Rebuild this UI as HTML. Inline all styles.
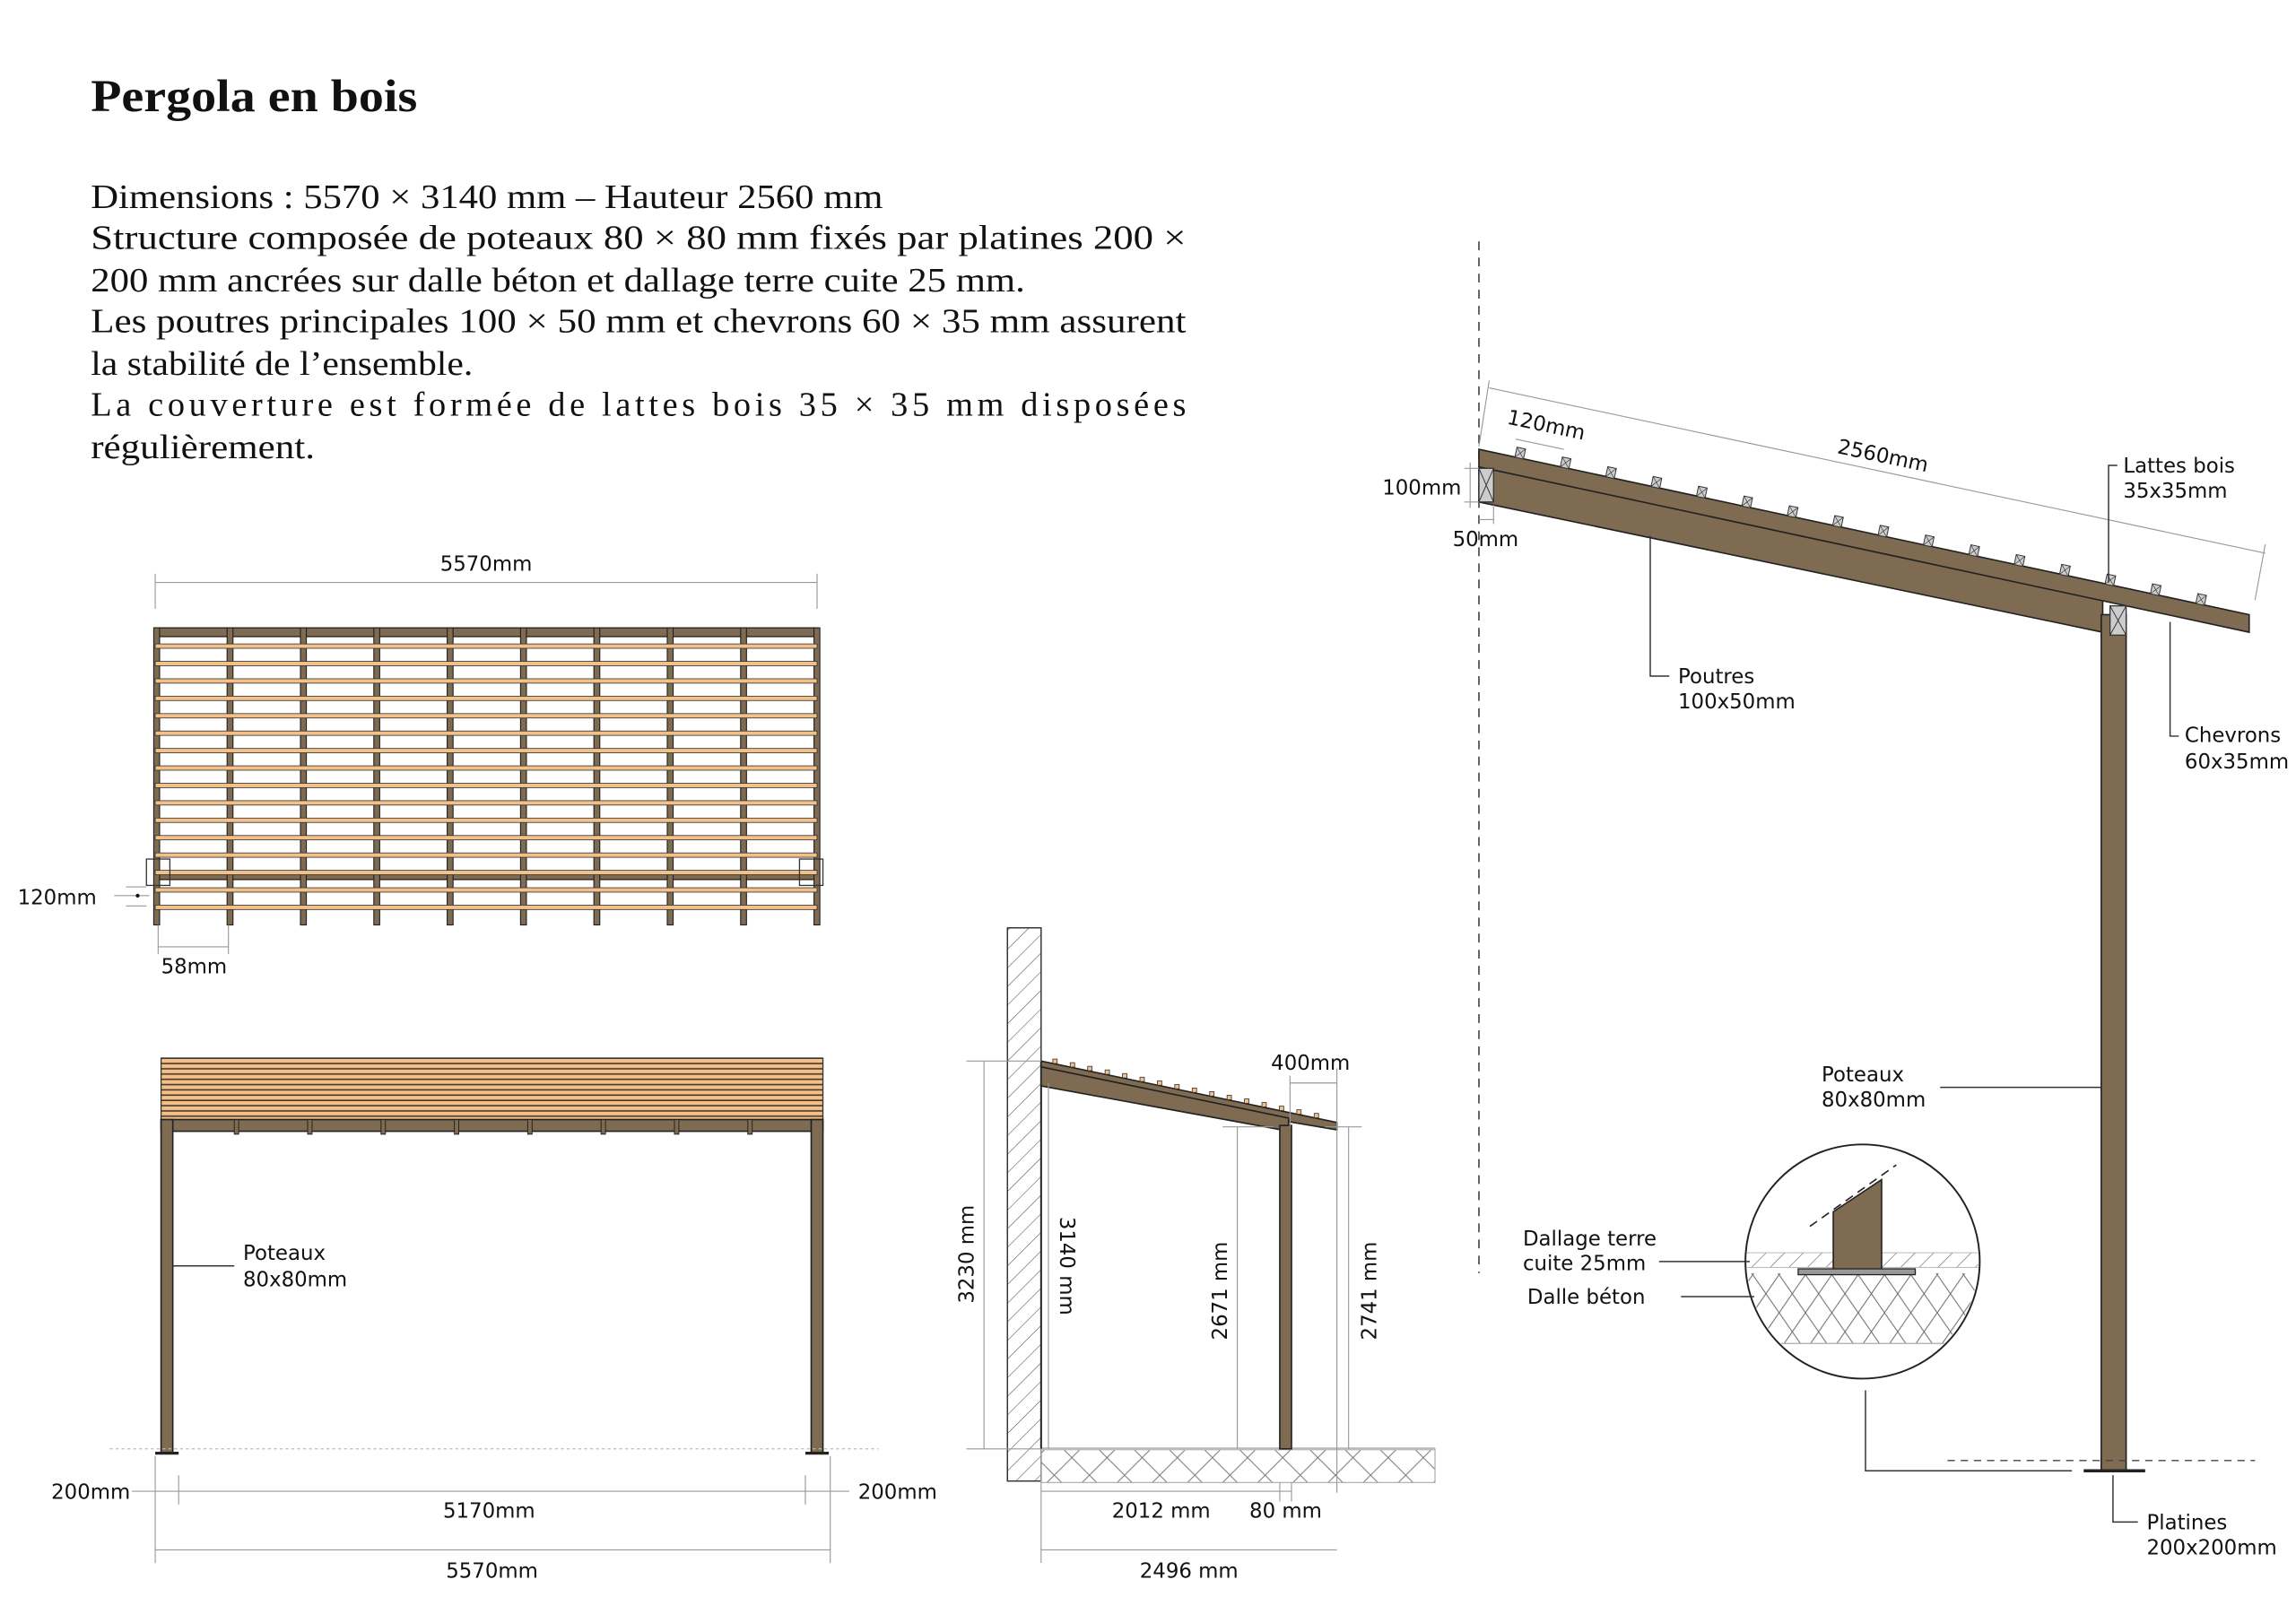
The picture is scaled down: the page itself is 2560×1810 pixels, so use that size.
<!DOCTYPE html>
<html><head><meta charset="utf-8">
<style>
html,body{margin:0;padding:0;background:#fff;}
svg{display:block;}
.s{font-family:"DejaVu Sans","Liberation Sans",sans-serif;font-size:14px;fill:#111;}
.p{font-family:"Liberation Serif","DejaVu Serif",serif;font-size:23.5px;fill:#111;}
.dim{stroke:#999;stroke-width:0.7;fill:none;}
.ld{stroke:#333;stroke-width:0.9;fill:none;}
.br{fill:#7f6b52;stroke:#222;stroke-width:1;}
</style></head>
<body>
<svg id="sv" width="2560" height="1810" viewBox="0 0 1568 1109" preserveAspectRatio="none" xmlns="http://www.w3.org/2000/svg">
<defs>
<pattern id="hatch" width="9" height="9" patternUnits="userSpaceOnUse" patternTransform="rotate(45)">
<line x1="0" y1="0" x2="0" y2="9" stroke="#555" stroke-width="0.7"/></pattern>
<pattern id="cross" width="24" height="24" patternUnits="userSpaceOnUse">
<path d="M0 0L24 24M24 0L0 24" stroke="#777" stroke-width="0.6"/></pattern>
<pattern id="cross2" width="18" height="26" patternUnits="userSpaceOnUse">
<path d="M0 0L18 26M18 0L0 26" stroke="#666" stroke-width="0.6"/></pattern>
<pattern id="stripes" width="10" height="3.6" patternUnits="userSpaceOnUse">
<rect width="10" height="3.6" fill="#f3c089"/><rect y="2.6" width="10" height="1" fill="#4a3a2a"/></pattern>
<clipPath id="circ"><circle cx="1272" cy="862" r="79"/></clipPath>
</defs>

<!-- Title & text -->
<text x="62" y="76" textLength="223" lengthAdjust="spacingAndGlyphs" style="font-family:'Liberation Serif',serif;font-size:31px;font-weight:bold;fill:#111">Pergola en bois</text>
<text class="p" x="62" y="142" textLength="541" lengthAdjust="spacingAndGlyphs">Dimensions : 5570 × 3140 mm – Hauteur 2560 mm</text>
<text class="p" x="62" y="170" textLength="748" lengthAdjust="spacingAndGlyphs">Structure composée de poteaux 80 × 80 mm fixés par platines 200 ×</text>
<text class="p" x="62" y="199" textLength="638" lengthAdjust="spacingAndGlyphs">200 mm ancrées sur dalle béton et dallage terre cuite 25 mm.</text>
<text class="p" x="62" y="227" textLength="748" lengthAdjust="spacingAndGlyphs">Les poutres principales 100 × 50 mm et chevrons 60 × 35 mm assurent</text>
<text class="p" x="62" y="256" textLength="261" lengthAdjust="spacingAndGlyphs">la stabilité de l’ensemble.</text>
<text class="p" x="62" y="284" textLength="748" lengthAdjust="spacing">La couverture est formée de lattes bois 35 × 35 mm disposées</text>
<text class="p" x="62" y="313" textLength="153" lengthAdjust="spacingAndGlyphs">régulièrement.</text>

<!-- ============ PLAN VIEW ============ -->
<text class="s" x="332" y="390" text-anchor="middle">5570mm</text>
<line class="dim" x1="106" y1="398" x2="558" y2="398"/>
<line class="dim" x1="106" y1="392" x2="106" y2="416"/>
<line class="dim" x1="558" y1="392" x2="558" y2="416"/>
<g id="plan"></g>
<text class="s" x="12" y="618">120mm</text>
<line class="dim" x1="78" y1="612" x2="102" y2="612"/>
<line class="dim" x1="86" y1="606" x2="100" y2="606"/><line class="dim" x1="86" y1="619" x2="100" y2="619"/>
<circle cx="94" cy="612" r="1.3" fill="#111"/>
<line class="dim" x1="108" y1="632" x2="108" y2="652"/><line class="dim" x1="156" y1="632" x2="156" y2="652"/>
<line class="dim" x1="108" y1="647" x2="156" y2="647"/>
<text class="s" x="110" y="665">58mm</text>

<!-- ============ FRONT ELEVATION ============ -->
<rect x="110" y="723" width="452" height="42" fill="url(#stripes)" stroke="#333" stroke-width="0.8"/>
<rect class="br" x="110" y="765" width="452" height="8"/>
<g id="front"></g>
<rect class="br" x="110" y="765" width="8" height="228"/>
<rect class="br" x="554" y="765" width="8" height="228"/>
<line x1="106" y1="993" x2="122" y2="993" stroke="#222" stroke-width="2"/>
<line x1="550" y1="993" x2="566" y2="993" stroke="#222" stroke-width="2"/>
<line x1="75" y1="990" x2="600" y2="990" stroke="#bbb" stroke-width="0.8" stroke-dasharray="2,2"/>
<line class="ld" x1="118" y1="865" x2="160" y2="865"/>
<text class="s" x="166" y="861">Poteaux</text><text class="s" x="166" y="879">80x80mm</text>
<line class="dim" x1="106" y1="995" x2="106" y2="1068"/>
<line class="dim" x1="122" y1="1008" x2="122" y2="1028"/>
<line class="dim" x1="550" y1="1008" x2="550" y2="1028"/>
<line class="dim" x1="567" y1="995" x2="567" y2="1068"/>
<line class="dim" x1="90" y1="1019" x2="580" y2="1019"/>
<line class="dim" x1="106" y1="1059" x2="567" y2="1059"/>
<text class="s" x="35" y="1024">200mm</text>
<text class="s" x="586" y="1024">200mm</text>
<text class="s" x="334" y="1037" text-anchor="middle">5170mm</text>
<text class="s" x="336" y="1078" text-anchor="middle">5570mm</text>

<!-- ============ SIDE SECTION ============ -->
<rect x="688" y="634" width="23" height="378" fill="url(#hatch)" stroke="#333" stroke-width="0.9"/>
<rect x="711" y="990" width="269" height="23" fill="url(#cross)" stroke="#aaa" stroke-width="0.7"/>
<line x1="711" y1="990" x2="980" y2="990" stroke="#bbb" stroke-width="2"/>
<line x1="711" y1="725" x2="711" y2="990" stroke="#222" stroke-width="1.2"/>
<polygon class="br" points="711,725 913,767 913,772 711,738"/>
<line x1="711" y1="729" x2="880" y2="764" stroke="#222" stroke-width="0.8"/>
<polygon class="br" points="711,729 880,764 880,770 875,772 711,742"/>
<rect class="br" x="874" y="769" width="8" height="221"/>
<g id="sidelat"></g>
<line class="dim" x1="660" y1="725" x2="711" y2="725"/><line class="dim" x1="660" y1="990" x2="711" y2="990"/>
<line class="dim" x1="672" y1="725" x2="672" y2="990"/>
<line class="dim" x1="716" y1="740" x2="716" y2="990"/>
<line class="dim" x1="845" y1="770" x2="845" y2="990"/><line class="dim" x1="835" y1="770" x2="870" y2="770"/>
<line class="dim" x1="921" y1="770" x2="921" y2="990"/><line class="dim" x1="905" y1="770" x2="930" y2="770"/>
<line class="dim" x1="913" y1="730" x2="913" y2="1020"/><line class="dim" x1="881" y1="740" x2="913" y2="740"/>
<line class="dim" x1="881" y1="735" x2="881" y2="770"/>
<text class="s" transform="translate(665,857) rotate(-90)" text-anchor="middle">3230 mm</text>
<text class="s" transform="translate(724,865) rotate(90)" text-anchor="middle">3140 mm</text>
<text class="s" transform="translate(838,882) rotate(-90)" text-anchor="middle">2671 mm</text>
<text class="s" transform="translate(940,882) rotate(-90)" text-anchor="middle">2741 mm</text>
<text class="s" x="895" y="731" text-anchor="middle">400mm</text>
<line class="dim" x1="711" y1="1013" x2="711" y2="1068"/><line class="dim" x1="874" y1="1013" x2="874" y2="1026"/><line class="dim" x1="882" y1="1013" x2="882" y2="1026"/>
<line class="dim" x1="711" y1="1019" x2="882" y2="1019"/>
<line class="dim" x1="711" y1="1059" x2="913" y2="1059"/>
<text class="s" x="793" y="1037" text-anchor="middle">2012 mm</text>
<text class="s" x="878" y="1037" text-anchor="middle">80 mm</text>
<text class="s" x="812" y="1078" text-anchor="middle">2496 mm</text>

<!-- ============ DETAIL SECTION ============ -->
<line x1="1010" y1="165" x2="1010" y2="870" stroke="#444" stroke-width="1" stroke-dasharray="6,5"/>
<polygon class="br" points="1010,319 1436,410 1436,432 1010,343"/>
<polygon class="br" points="1010,307 1536,420 1536,432 1010,319"/>
<rect x="1010" y="320" width="10" height="23" fill="#ccc" stroke="#333" stroke-width="0.8"/>
<path d="M1010 320L1020 343M1020 320L1010 343" stroke="#333" stroke-width="0.6"/>
<rect class="br" x="1435" y="420" width="17" height="585"/>
<rect x="1441" y="414" width="11" height="20" fill="#ccc" stroke="#333" stroke-width="0.8"/>
<path d="M1441 414L1452 434M1452 414L1441 434" stroke="#333" stroke-width="0.6"/>
<g id="detlat"></g>
<line x1="1423" y1="1005" x2="1465" y2="1005" stroke="#222" stroke-width="2.2"/>
<line x1="1330" y1="998" x2="1540" y2="998" stroke="#444" stroke-width="0.8" stroke-dasharray="5,4"/>
<line class="dim" x1="1017" y1="265" x2="1547" y2="378"/>
<line class="dim" x1="1017" y1="260" x2="1010" y2="305"/>
<line class="dim" x1="1547" y1="372" x2="1540" y2="410"/>
<line class="dim" x1="1035" y1="300" x2="1068" y2="307"/>
<text class="s" transform="translate(1055,295) rotate(12)" text-anchor="middle">120mm</text>
<text class="s" transform="translate(1285,316) rotate(12)" text-anchor="middle">2560mm</text>
<line class="dim" x1="1000" y1="320" x2="1010" y2="320"/><line class="dim" x1="1000" y1="343" x2="1010" y2="343"/>
<line class="dim" x1="1004" y1="316" x2="1004" y2="347"/>
<text class="s" x="944" y="338">100mm</text>
<line class="dim" x1="1020" y1="345" x2="1020" y2="358"/><line class="dim" x1="1010" y1="355" x2="1020" y2="355"/>
<text class="s" x="992" y="373">50mm</text>
<path class="ld" d="M1440 398V318H1446"/>
<text class="s" x="1450" y="323">Lattes bois</text><text class="s" x="1450" y="340">35x35mm</text>
<path class="ld" d="M1127 366V462H1140"/>
<text class="s" x="1146" y="467">Poutres</text><text class="s" x="1146" y="484">100x50mm</text>
<path class="ld" d="M1482 425V503H1488"/>
<text class="s" x="1492" y="507">Chevrons</text><text class="s" x="1492" y="525">60x35mm</text>
<line class="ld" x1="1325" y1="743" x2="1435" y2="743"/>
<text class="s" x="1244" y="739">Poteaux</text><text class="s" x="1244" y="756">80x80mm</text>
<path class="ld" d="M1415 1005H1274V950"/>
<path class="ld" d="M1443 1008V1040H1460"/>
<text class="s" x="1466" y="1045">Platines</text><text class="s" x="1466" y="1062">200x200mm</text>
<g clip-path="url(#circ)">
<rect x="1190" y="856" width="165" height="10" fill="url(#hatch)" stroke="#aaa" stroke-width="0.5"/>
<rect x="1190" y="870" width="165" height="48" fill="url(#cross2)"/>
<line x1="1190" y1="918" x2="1355" y2="918" stroke="#aaa" stroke-width="0.8"/>
<polygon class="br" points="1252,828 1285,806 1285,868 1252,868"/>
<line x1="1236" y1="838" x2="1295" y2="796" stroke="#222" stroke-width="1" stroke-dasharray="6,4"/>
<rect x="1228" y="867" width="80" height="4" fill="#999" stroke="#222" stroke-width="0.8"/>
</g>
<circle cx="1272" cy="862" r="80" fill="none" stroke="#222" stroke-width="1.2"/>
<line class="ld" x1="1133" y1="862" x2="1195" y2="862"/>
<line class="ld" x1="1148" y1="886" x2="1198" y2="886"/>
<text class="s" x="1040" y="851">Dallage terre</text><text class="s" x="1040" y="868">cuite 25mm</text>
<text class="s" x="1043" y="891">Dalle béton</text>
</svg>
<script>
var NS="http://www.w3.org/2000/svg";
function el(p,t,a){var e=document.createElementNS(NS,t);for(var k in a)e.setAttribute(k,a[k]);p.appendChild(e);return e;}
var plan=document.getElementById("plan");
el(plan,"rect",{x:106,y:429,width:452,height:6,fill:"#7f6b52",stroke:"#222","stroke-width":0.8});
el(plan,"rect",{x:106,y:596,width:452,height:5,fill:"#7f6b52",stroke:"#222","stroke-width":0.8});
for(var i=0;i<10;i++){var x=106+i*50.1;el(plan,"rect",{x:x-1,y:429,width:4,height:203,fill:"#7f6b52",stroke:"#222","stroke-width":0.7});}
for(var j=0;j<16;j++){var y=440+j*11.9;el(plan,"rect",{x:106,y:y,width:452,height:3,fill:"#f3c089",stroke:"#333","stroke-width":0.5});}
[[100,587],[546,587]].forEach(function(p){el(plan,"rect",{x:p[0],y:p[1],width:16,height:18,fill:"none",stroke:"#333","stroke-width":0.8});});
var fr=document.getElementById("front");
for(var i=0;i<8;i++){var x=160+i*50.1;el(fr,"rect",{x:x,y:765,width:3,height:10,fill:"#7f6b52",stroke:"#222","stroke-width":0.6});}
var sl=document.getElementById("sidelat");
for(var i=0;i<16;i++){var x=719+i*11.9,y=725+(x-711)*0.208;el(sl,"rect",{x:x,y:y-3,width:3,height:3,fill:"#f3c089",stroke:"#333","stroke-width":0.5});}
var dl=document.getElementById("detlat");
for(var i=0;i<16;i++){var x=1036+i*31,y=307+(x-1010)*0.215;var g=el(dl,"g",{transform:"translate("+x+","+(y-7)+") rotate(12)"});
el(g,"rect",{x:0,y:0,width:6,height:7,fill:"#ccc",stroke:"#333","stroke-width":0.6});
el(g,"path",{d:"M0 0L6 7M6 0L0 7",stroke:"#333","stroke-width":0.4});}
</script>
</body></html>
